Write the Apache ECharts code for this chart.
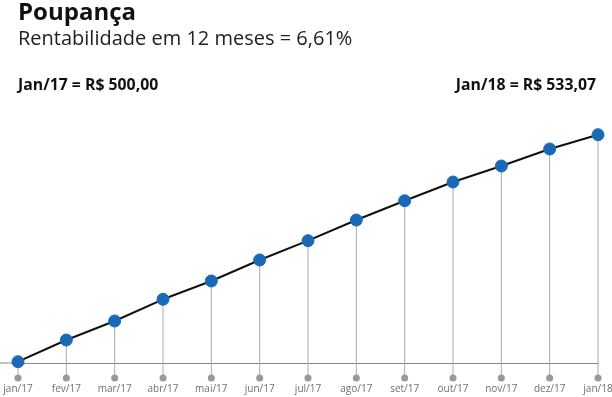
<!DOCTYPE html>
<html>
<head>
<meta charset="utf-8">
<script src="https://cdn.jsdelivr.net/npm/echarts@6/dist/echarts.min.js"></script>
<style>
  html, body { margin: 0; padding: 0; background: #fff; }
  #chart { width: 612px; height: 397px; }
</style>
</head>
<body>
<div id="chart"></div>
<script>
// meses e saldo da poupança (R$)
const months = ['jan/17', 'fev/17', 'mar/17', 'abr/17', 'mai/17', 'jun/17', 'jul/17',
                'ago/17', 'set/17', 'out/17', 'nov/17', 'dez/17', 'jan/18'];
const balance = [500.00, 503.16, 505.93, 509.09, 511.76, 514.82, 517.63,
                 520.64, 523.45, 526.18, 528.51, 530.99, 533.07];
const yieldText = '6,61%';

const fmt = v => v.toFixed(2).replace('.', ',');
const font = '"Open Sans", sans-serif';
const yMin = 499.81;

const chart = echarts.init(document.getElementById('chart'));

const option = {
    animation: false,
    title: [
        { text: 'Poupança', left: 13, top: -4,
          textStyle: { fontFamily: font, fontSize: 24, fontWeight: 'bold', color: '#111' } },
        { text: 'Rentabilidade em 12 meses = ' + yieldText, left: 13, top: 24,
          textStyle: { fontFamily: font, fontSize: 20, fontWeight: 'normal', color: '#222' } },
        { text: 'Jan/17 = R$ ' + fmt(balance[0]), left: 13, top: 72,
          textStyle: { fontFamily: font, fontSize: 15.8, fontWeight: 'bold', color: '#111' } },
        { text: 'Jan/18 = R$ ' + fmt(balance[balance.length - 1]), right: 11, top: 72,
          textStyle: { fontFamily: font, fontSize: 15.8, fontWeight: 'bold', color: '#111' } }
    ],
    grid: { left: 18, right: 14, top: 134.7, bottom: 34, outerBoundsMode: 'none' },
    xAxis: {
        type: 'category',
        data: months,
        boundaryGap: false,
        axisLine: { lineStyle: { color: '#888', width: 1 } },
        axisTick: { show: false },
        axisLabel: { margin: 21, fontFamily: font, fontSize: 10, color: '#707070', interval: 0 }
    },
    yAxis: {
        type: 'value',
        min: yMin,
        max: 533.07,
        show: false
    },
    // extensão da linha do eixo à esquerda
    graphic: [{
        type: 'line', z: 1,
        shape: { x1: 0, y1: 363, x2: 18, y2: 363 },
        style: { stroke: '#888', lineWidth: 1 }
    }],
    series: [
        {
            type: 'custom',
            z: 1,
            data: balance.map((v, i) => [i, v]),
            renderItem: (params, api) => {
                const top = api.coord([api.value(0), api.value(1)]);
                const base = api.coord([api.value(0), yMin]);
                const yDot = base[1] + 15;
                return {
                    type: 'group',
                    children: [
                        { type: 'line', shape: { x1: top[0], y1: top[1], x2: top[0], y2: yDot },
                          style: { stroke: '#aaa', lineWidth: 1 } },
                        { type: 'circle', shape: { cx: top[0], cy: yDot, r: 3.5 },
                          style: { fill: '#999' } }
                    ]
                };
            },
            clip: false
        },
        {
            type: 'line',
            z: 3,
            data: balance,
            symbol: 'circle',
            symbolSize: 12,
            lineStyle: { color: '#111', width: 2 },
            itemStyle: { color: '#1a69b7', borderColor: '#1a69b7' }
        }
    ]
};

chart.setOption(option);
</script>
</body>
</html>
